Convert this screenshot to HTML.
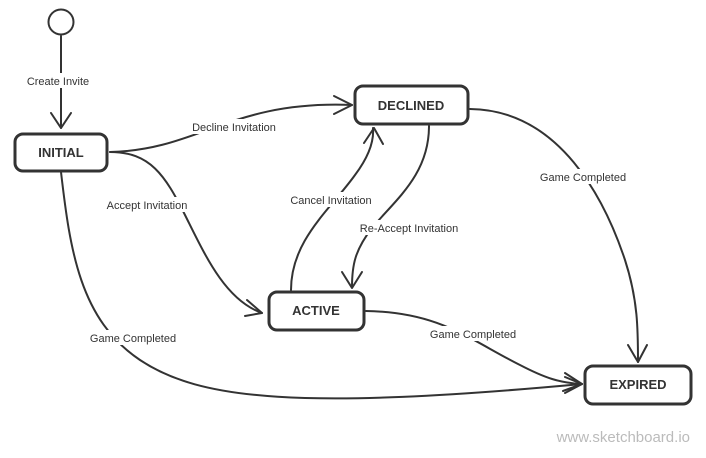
<!DOCTYPE html>
<html><head><style>
html,body{margin:0;padding:0;background:#fff;}
svg{display:block;}
text{font-family:"Liberation Sans",sans-serif;}
</style></head><body>
<svg width="706" height="458" viewBox="0 0 706 458" xmlns="http://www.w3.org/2000/svg">
<g fill="none" stroke="#333" stroke-width="2" stroke-linecap="round" stroke-linejoin="round">
<circle cx="61" cy="22" r="12.5"/>
<path d="M61 36 L61 128"/><path d="M51 113 L61 128 L71 113"/>
<path d="M110 152 C200 150,230 100,352 105"/><path d="M334 96 L352 105 L334 114"/>
<path d="M110 152 C150 152,165 175,185 215 C205 255,225 300,262 313"/><path d="M247 300 L262 313 L245 316"/>
<path d="M291 290 C291 240,330 210,355 175 C370 155,374 140,373 128"/><path d="M364 143 L374 128 L383 144"/>
<path d="M429 126 C429 175,395 200,372 228 C355 250,352 265,352 287"/><path d="M342 272 L352 288 L362 272"/>
<path d="M470 109 C560 110,605 200,625 260 C638 300,638 330,638 362"/><path d="M628 345 L638 362 L647 345"/>
<path d="M366 311 C440 312,470 340,520 365 C545 378,560 383,582 384"/><path d="M565 373 L582 384 L563 391"/>
<path d="M61 172 C70 250,80 320,140 360 C200 400,300 410,582 384"/><path d="M565 377 L582 384 L565 393"/>
</g>
<g fill="#fff" stroke="#333" stroke-width="3">
<rect x="15" y="134" width="92" height="37" rx="8"/>
<rect x="355" y="86" width="113" height="38" rx="8"/>
<rect x="269" y="292" width="95" height="38" rx="8"/>
<rect x="585" y="366" width="106" height="38" rx="8"/>
</g>
<g font-size="13" font-weight="bold" fill="#333" text-anchor="middle">
<text x="61" y="157">INITIAL</text>
<text x="411" y="110">DECLINED</text>
<text x="316" y="315">ACTIVE</text>
<text x="638" y="389">EXPIRED</text>
</g>
<g fill="#fff">
<rect x="22" y="73" width="72" height="15"/>
<rect x="187" y="119" width="94" height="15"/>
<rect x="101" y="197" width="92" height="15"/>
<rect x="285" y="192" width="92" height="15"/>
<rect x="354" y="220" width="110" height="15"/>
<rect x="534" y="169" width="98" height="15"/>
<rect x="424" y="326" width="98" height="15"/>
<rect x="84" y="330" width="98" height="15"/>
</g>
<g font-size="11" fill="#333" text-anchor="middle">
<text x="58" y="85">Create Invite</text>
<text x="234" y="131">Decline Invitation</text>
<text x="147" y="209">Accept Invitation</text>
<text x="331" y="204">Cancel Invitation</text>
<text x="409" y="232">Re-Accept Invitation</text>
<text x="583" y="181">Game Completed</text>
<text x="473" y="338">Game Completed</text>
<text x="133" y="342">Game Completed</text>
</g>
<text x="690" y="442" font-size="15" fill="#bbb" text-anchor="end">www.sketchboard.io</text>
</svg>
</body></html>
